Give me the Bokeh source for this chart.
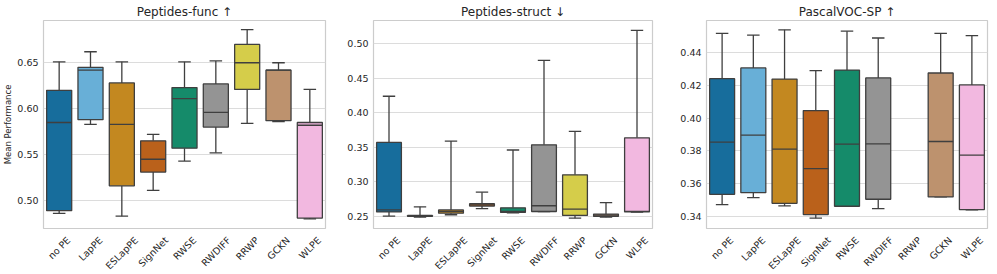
import colorsys
from math import pi, nan, cos
from bokeh.plotting import figure
from bokeh.layouts import row
from bokeh.models import (Range1d, FixedTicker, PrintfTickFormatter, ColumnDataSource,
                          CustomJSTickFormatter)
from bokeh.transform import dodge
from bokeh.embed import file_html
from bokeh.resources import INLINE

methods = ["no PE", "LapPE", "ESLapPE", "SignNet", "RWSE", "RWDIFF", "RRWP", "GCKN", "WLPE"]

# Peptides-func (higher is better)
func_low = [0.486, 0.583, 0.483, 0.511, 0.543, 0.552, 0.584, 0.586, 0.480]
func_q1 = [0.489, 0.588, 0.516, 0.531, 0.557, 0.580, 0.621, 0.587, 0.481]
func_med = [0.585, 0.642, 0.583, 0.545, 0.611, 0.596, 0.650, 0.642, 0.582]
func_q3 = [0.620, 0.645, 0.628, 0.565, 0.623, 0.627, 0.670, 0.642, 0.585]
func_high = [0.651, 0.662, 0.651, 0.572, 0.651, 0.652, 0.686, 0.650, 0.621]

# Peptides-struct (lower is better)
struct_low = [0.250, 0.2485, 0.252, 0.261, 0.2548, 0.2567, 0.247, 0.2485, 0.2558]
struct_q1 = [0.256, 0.2495, 0.2543, 0.2645, 0.2553, 0.2567, 0.251, 0.2495, 0.256]
struct_med = [0.259, 0.250, 0.257, 0.2664, 0.257, 0.265, 0.260, 0.2514, 0.257]
struct_q3 = [0.357, 0.251, 0.259, 0.268, 0.262, 0.3535, 0.310, 0.2529, 0.3637]
struct_high = [0.424, 0.2635, 0.359, 0.2847, 0.346, 0.476, 0.373, 0.2697, 0.5198]

# PascalVOC-SP (higher is better); RRWP has no result
voc_low = [0.3471, 0.3514, 0.3463, 0.3388, 0.3461, 0.3447, nan, 0.3518, 0.3439]
voc_q1 = [0.3534, 0.3544, 0.3479, 0.3410, 0.3461, 0.3504, nan, 0.3518, 0.3441]
voc_med = [0.3853, 0.3896, 0.3811, 0.3691, 0.3841, 0.3843, nan, 0.3857, 0.3774]
voc_q3 = [0.4241, 0.4307, 0.4239, 0.4046, 0.4294, 0.4246, nan, 0.4276, 0.4203]
voc_high = [0.4518, 0.4508, 0.4540, 0.4290, 0.4532, 0.4490, nan, 0.4518, 0.4504]

func_ticks = [0.50, 0.55, 0.60, 0.65]
struct_ticks = [0.25, 0.30, 0.35, 0.40, 0.45, 0.50]
voc_ticks = [0.34, 0.36, 0.38, 0.40, 0.42, 0.44]

base_colors = ["#0173b2", "#56b4e9", "#de8f05", "#d55e00", "#029e73",
               "#949494", "#ece133", "#ca9161", "#fbafe4"]


def desat(hexc, prop=0.75):
    r, g, b = (int(hexc[i:i + 2], 16) / 255 for i in (1, 3, 5))
    h, l, s = colorsys.rgb_to_hls(r, g, b)
    r, g, b = colorsys.hls_to_rgb(h, l, s * prop)
    return "#%02x%02x%02x" % (round(r * 255), round(g * 255), round(b * 255))


colors = [desat(c) for c in base_colors]
EDGE = "#3f3f3f"
TXT = "#262626"
FONT = "DejaVu Sans"
TICK_PX = 9.5

# approximate DejaVu Sans advance widths (em) used to centre rotated labels like matplotlib
CW = {"n": .634, "o": .612, " ": .318, "P": .603, "E": .632, "L": .557, "a": .613,
      "p": .635, "S": .635, "i": .278, "g": .635, "N": .748, "e": .615, "t": .392,
      "R": .695, "W": .989, "D": .770, "I": .295, "F": .575, "C": .698, "G": .775, "K": .656}
label_shift_px = [sum(CW.get(ch, .6) for ch in m) * TICK_PX * cos(pi / 4) / 2 for m in methods]


def style_axis(ax):
    ax.axis_line_color = None
    ax.major_tick_line_color = None
    ax.minor_tick_line_color = None
    ax.major_tick_out = 0
    ax.major_tick_in = 0
    ax.minor_tick_out = 0
    ax.minor_tick_in = 0
    ax.major_label_text_font = FONT
    ax.major_label_text_font_size = "%spx" % TICK_PX
    ax.major_label_text_color = TXT


def make(title, lo, q1, med, q3, hi, yr, ticks, frame_w, left, right, ylabel=None):
    n = len(methods)
    p = figure(x_range=Range1d(-0.5, n - 0.5), y_range=Range1d(*yr),
               frame_width=frame_w, frame_height=208,
               output_backend="svg", toolbar_location=None,
               min_border_left=left, min_border_right=right, min_border_top=2, min_border_bottom=30)
    p.title.text = title
    p.title.align = "center"
    p.title.text_font = FONT
    p.title.text_font_size = "12px"
    p.title.text_font_style = "normal"
    p.title.text_color = TXT
    p.title.standoff = 4
    p.background_fill_color = "white"
    p.outline_line_color = "#cccccc"
    p.outline_line_width = 1.2
    p.xgrid.grid_line_color = None
    p.ygrid.grid_line_color = "#dcdcdc"
    p.ygrid.grid_line_width = 1.2
    ax = p.yaxis[0]
    ax.ticker = FixedTicker(ticks=ticks)
    ax.formatter = PrintfTickFormatter(format="%.2f")
    style_axis(ax)
    ax.major_label_standoff = 5
    if ylabel:
        ax.axis_label = ylabel
        ax.axis_label_text_font = FONT
        ax.axis_label_text_font_size = "8.5px"
        ax.axis_label_text_font_style = "normal"
        ax.axis_label_text_color = TXT
        ax.axis_label_standoff = 1

    # category labels: each tick nudged right so the rotated label is centred under its box
    cat_px = frame_w / n
    tick_pos = [round(i + s / cat_px, 4) for i, s in enumerate(label_shift_px)]
    xax = p.xaxis[0]
    xax.ticker = FixedTicker(ticks=tick_pos)
    xax.formatter = CustomJSTickFormatter(args=dict(names=methods),
                                          code="return names[Math.round(tick)];")
    style_axis(xax)
    xax.major_label_orientation = pi / 4
    xax.major_label_standoff = 10

    idx = list(range(n))
    src = ColumnDataSource(dict(x=idx, lo=lo, q1=q1, med=med, q3=q3, hi=hi, c=colors))
    lw = 1.3
    p.segment(x0="x", x1="x", y0="q3", y1="hi", source=src, line_color=EDGE, line_width=lw)
    p.segment(x0="x", x1="x", y0="lo", y1="q1", source=src, line_color=EDGE, line_width=lw)
    left_cap = dodge("x", -0.2)
    right_cap = dodge("x", 0.2)
    p.segment(x0=left_cap, x1=right_cap, y0="hi", y1="hi", source=src, line_color=EDGE, line_width=lw)
    p.segment(x0=left_cap, x1=right_cap, y0="lo", y1="lo", source=src, line_color=EDGE, line_width=lw)
    p.vbar(x="x", width=0.8, bottom="q1", top="q3", source=src,
           fill_color="c", line_color=EDGE, line_width=lw)
    p.segment(x0=dodge("x", -0.4), x1=dodge("x", 0.4),
              y0="med", y1="med", source=src, line_color=EDGE, line_width=lw)
    return p


p1 = make("Peptides-func \u2191", func_low, func_q1, func_med, func_q3, func_high,
          (0.4696, 0.696), func_ticks, 282, 34, 3, ylabel="Mean Performance")
p2 = make("Peptides-struct \u2193", struct_low, struct_q1, struct_med, struct_q3, struct_high,
          (0.232, 0.534), struct_ticks, 279, 45, 7)
p3 = make("PascalVOC-SP \u2191", voc_low, voc_q1, voc_med, voc_q3, voc_high,
          (0.3325, 0.4597), voc_ticks, 281, 47, 2)

p = row(p1, p2, p3, spacing=0)
open("out.html", "w").write(file_html(p, INLINE))
